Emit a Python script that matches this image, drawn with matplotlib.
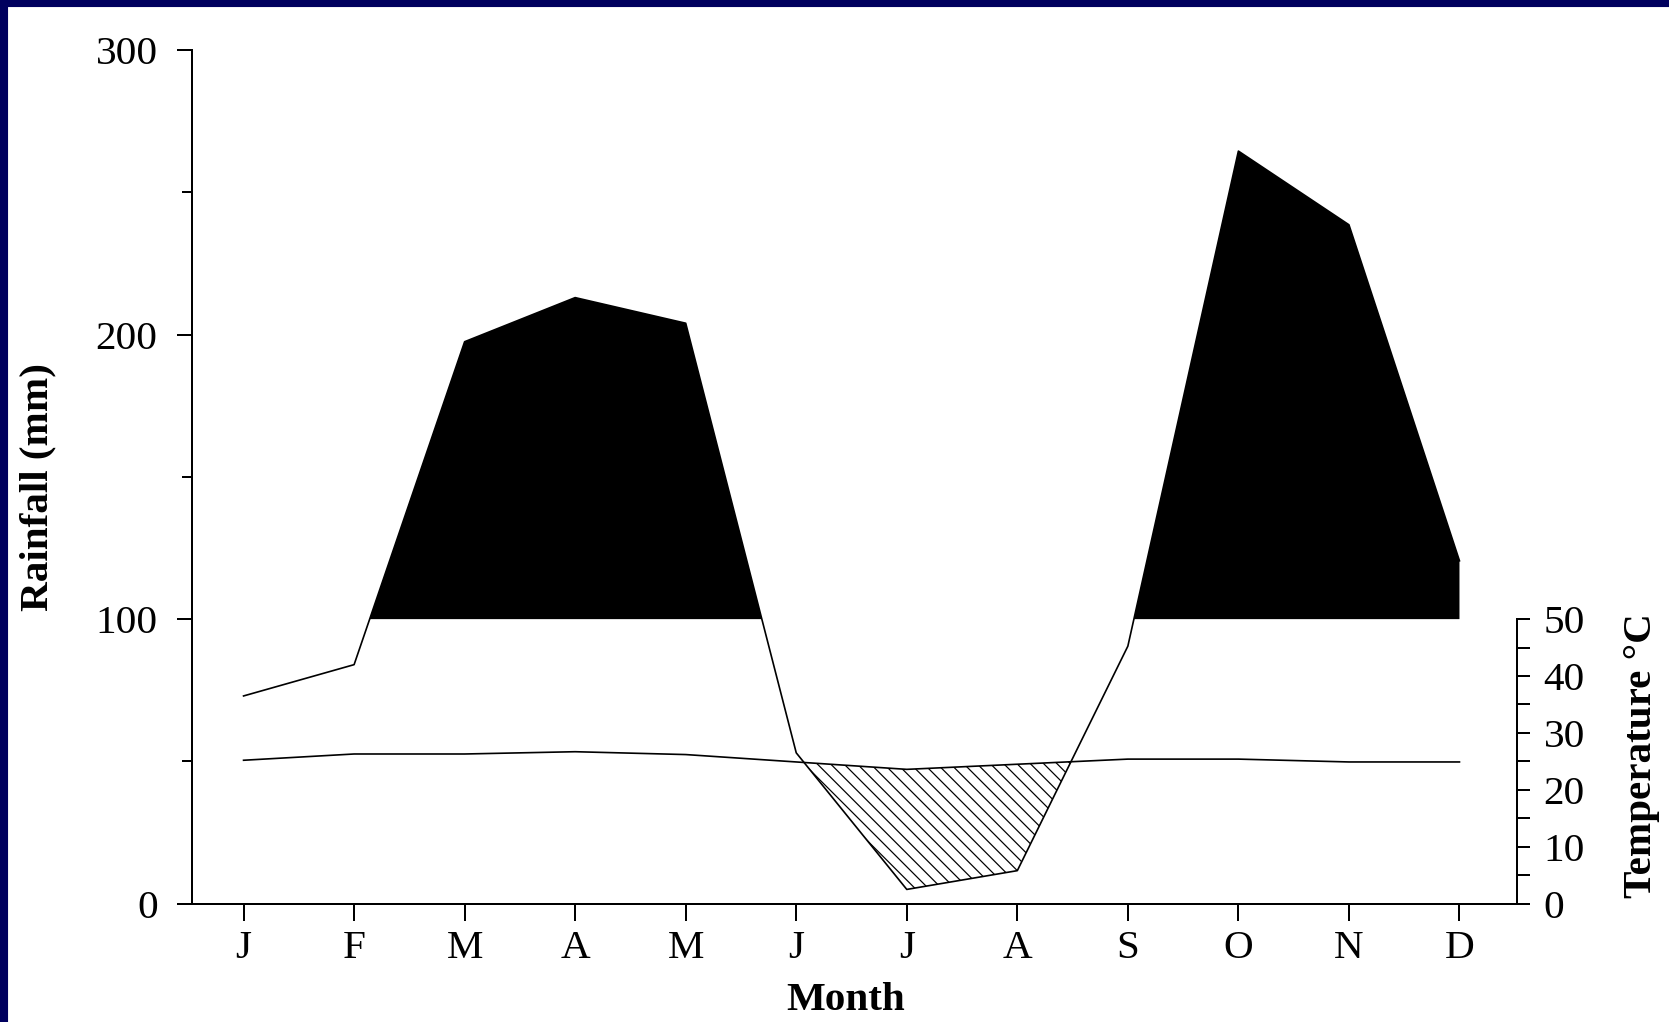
#!/usr/bin/env python3
# -*- coding: utf-8 -*-
"""
Climate diagram: monthly rainfall (mm) with mean temperature (deg C),
temperature scaled 1:2 against rainfall. Wet months above 100 mm are
filled black, the dry period (rain below temperature) is hatched.
"""

import numpy as np
import matplotlib
matplotlib.use('Agg')
import matplotlib.pyplot as plt
from matplotlib.patches import Rectangle
from matplotlib.ticker import MultipleLocator, FixedLocator


# =============================================================================
# 1. DATA
# =============================================================================

months = ['J', 'F', 'M', 'A', 'M', 'J', 'J', 'A', 'S', 'O', 'N', 'D']
rainfall_mm = [73, 84, 197.5, 213, 204, 53, 5, 11.6, 90.5, 264.5, 238.6, 120.5]
temperature_c = [25.2, 26.3, 26.3, 26.7, 26.2, 24.9, 23.6, 24.5, 25.4, 25.4, 24.9, 24.9]

rain_ticks = [0, 100, 200, 300]
temp_ticks = [0, 10, 20, 30, 40, 50]


# =============================================================================
# 2. FIGURE
# =============================================================================

DPI = 80
NAVY = '#00005E'
plt.rcParams['font.family'] = ['Liberation Serif', 'DejaVu Serif']
plt.rcParams['hatch.linewidth'] = 1.1

fig = plt.figure(figsize=(1669 / DPI, 1022 / DPI), dpi=DPI, facecolor='white')
ax = fig.add_axes([0.1148, 0.1158, 0.9089 - 0.1148, 0.951 - 0.1158])

# navy slide frame (top and left edges only)
fig.patches.append(Rectangle((0, 1 - 6 / 1022), 1, 6 / 1022, transform=fig.transFigure,
                             color=NAVY, zorder=0))
fig.patches.append(Rectangle((0, 0), 7 / 1669, 1, transform=fig.transFigure,
                             color=NAVY, zorder=0))

x = np.arange(len(months))
rain = np.array(rainfall_mm)
temp_mm = np.array(temperature_c) * 2   # 50 C == 100 mm

# wet season above 100 mm
ax.fill_between(x, 100, rain, where=rain > 100, interpolate=True,
                color='black', linewidth=0, zorder=2)

# dry period
ax.fill_between(x, rain, temp_mm, where=rain < temp_mm, interpolate=True,
                facecolor='white', edgecolor='black', hatch='\\\\', linewidth=0, zorder=2)

ax.plot(x, rain, color='black', linewidth=1.5, zorder=3)
ax.plot(x, temp_mm, color='black', linewidth=1.5, zorder=3)

ax.set_xlim(-0.47, 11.52)
ax.set_ylim(0, 300)
ax.set_xticks(x)
ax.set_xticklabels(months)
ax.set_yticks(rain_ticks)
ax.yaxis.set_minor_locator(MultipleLocator(50))

ax.spines[['top', 'right']].set_visible(False)
for side in ['left', 'bottom']:
    ax.spines[side].set_linewidth(1.8)

ax.tick_params(axis='y', which='major', length=13.5, width=1.8, pad=17, labelsize=37)
ax.tick_params(axis='y', which='minor', length=9, width=1.8)
ax.tick_params(axis='x', length=15, width=1.8, pad=9, labelsize=37)

ax.set_ylabel('Rainfall (mm)', fontsize=37, fontweight='bold', va='center')
ax.yaxis.set_label_coords(-0.1159, 0.488)
ax.set_xlabel('Month', fontsize=37, fontweight='bold', va='center')
ax.xaxis.set_label_coords(0.4937, -0.113)

# temperature axis on the right, only 0-50
ax2 = ax.twinx()
ax2.set_ylim(0, 150)
ax2.set_yticks(temp_ticks)
ax2.yaxis.set_minor_locator(FixedLocator(np.arange(5, 50, 10)))
ax2.spines[['top', 'left', 'bottom']].set_visible(False)
ax2.spines['right'].set_bounds(0, 50)
ax2.spines['right'].set_linewidth(1.8)
ax2.tick_params(axis='y', which='both', length=12, width=1.8, pad=12, labelsize=37)
ax2.set_ylabel('Temperature °C', fontsize=37, fontweight='bold', va='center',
               rotation=90)
ax2.yaxis.set_label_coords(1.0943, 0.173)

fig.savefig('out.png', dpi=DPI, facecolor='white')
